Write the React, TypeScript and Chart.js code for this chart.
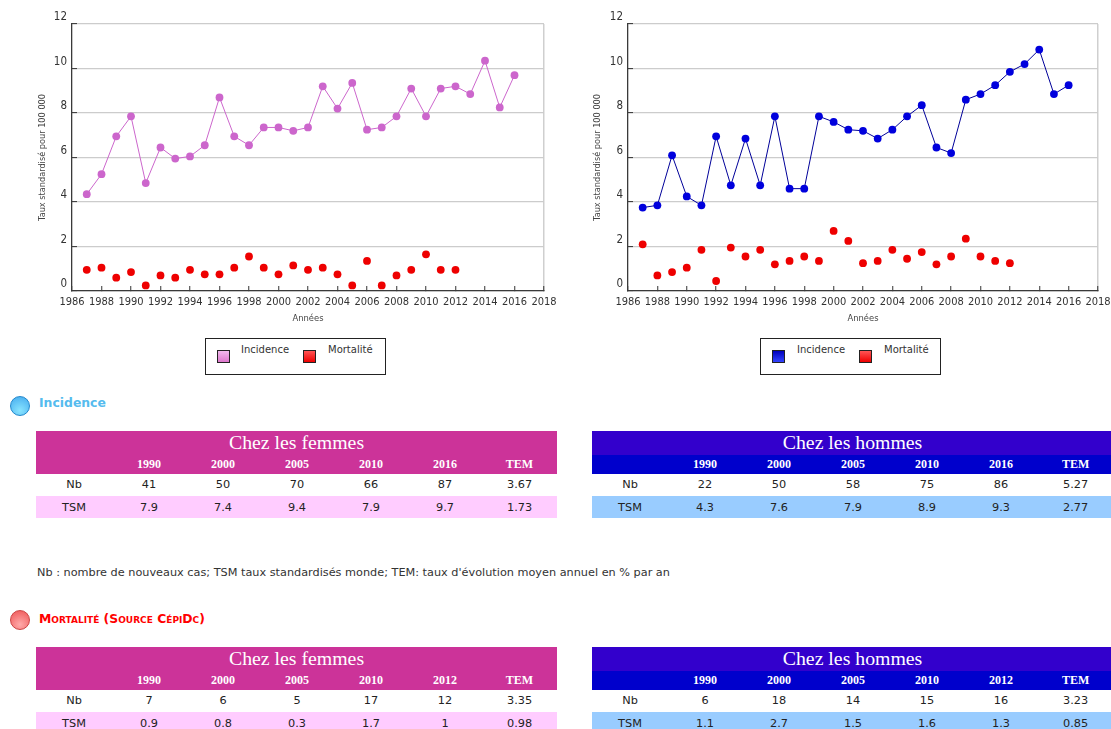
import React, { useEffect, useRef } from "react";
import { Chart, registerables } from "chart.js";

Chart.register(...registerables);

const incidenceYears = [1987,1988,1989,1990,1991,1992,1993,1994,1995,1996,1997,1998,1999,2000,2001,2002,2003,2004,2005,2006,2007,2008,2009,2010,2011,2012,2013,2014,2015,2016];
const mortalityYears = [1987,1988,1989,1990,1991,1992,1993,1994,1995,1996,1997,1998,1999,2000,2001,2002,2003,2004,2005,2006,2007,2008,2009,2010,2011,2012];

const femmesIncidence = [4.35,5.25,6.95,7.85,4.85,6.45,5.95,6.05,6.55,8.7,6.95,6.55,7.35,7.35,7.2,7.35,9.2,8.2,9.35,7.25,7.35,7.85,9.1,7.85,9.1,9.2,8.85,10.35,8.25,9.7];
const femmesMortalite = [0.95,1.05,0.6,0.85,0.25,0.7,0.6,0.95,0.75,0.75,1.05,1.55,1.05,0.75,1.15,0.95,1.05,0.75,0.25,1.35,0.25,0.7,0.95,1.65,0.95,0.95];
const hommesIncidence = [3.75,3.85,6.1,4.25,3.85,6.95,4.75,6.85,4.75,7.85,4.6,4.6,7.85,7.6,7.25,7.2,6.85,7.25,7.85,8.35,6.45,6.2,8.6,8.85,9.25,9.85,10.2,10.85,8.85,9.25];
const hommesMortalite = [2.1,0.7,0.85,1.05,1.85,0.45,1.95,1.55,1.85,1.2,1.35,1.55,1.35,2.7,2.25,1.25,1.35,1.85,1.45,1.75,1.2,1.55,2.35,1.55,1.35,1.25];

const yAxisTitle = "Taux standardisé pour 100 000";
const xAxisTitle = "Années";

const rowLabels = ["Nb", "TSM"];
const incidenceFemmesHead = ["1990","2000","2005","2010","2016","TEM"];
const incidenceFemmesNb = ["41","50","70","66","87","3.67"];
const incidenceFemmesTsm = ["7.9","7.4","9.4","7.9","9.7","1.73"];
const incidenceHommesNb = ["22","50","58","75","86","5.27"];
const incidenceHommesTsm = ["4.3","7.6","7.9","8.9","9.3","2.77"];
const mortaliteHead = ["1990","2000","2005","2010","2012","TEM"];
const mortaliteFemmesNb = ["7","6","5","17","12","3.35"];
const mortaliteFemmesTsm = ["0.9","0.8","0.3","1.7","1","0.98"];
const mortaliteHommesNb = ["6","18","14","15","16","3.23"];
const mortaliteHommesTsm = ["1.1","2.7","1.5","1.6","1.3","0.85"];

const tickFont = "'Liberation Sans Narrow', 'DejaVu Sans Condensed', 'DejaVu Sans', sans-serif";
const uiFont = "'DejaVu Sans', sans-serif";

function Plot(props: { left: number; width: number; rightPad: number; titleLeft: number; inc: number[]; mort: number[]; color: string; lineColor: string }) {
  const ref = useRef<HTMLCanvasElement>(null);
  useEffect(() => {
    const chart = new Chart(ref.current as HTMLCanvasElement, {
      type: "scatter",
      data: {
        datasets: [
          {
            label: "Incidence",
            data: incidenceYears.map((x, i) => ({ x, y: props.inc[i] })),
            showLine: true,
            borderColor: props.lineColor,
            backgroundColor: props.color,
            borderWidth: 1,
            pointRadius: 3.9,
            pointBorderWidth: 0,
          },
          {
            label: "Mortalité",
            data: mortalityYears.map((x, i) => ({ x, y: props.mort[i] })),
            showLine: false,
            backgroundColor: "#ee0000",
            borderColor: "#ee0000",
            pointRadius: 3.9,
            pointBorderWidth: 0,
          },
        ],
      },
      options: {
        animation: false,
        responsive: false,
        layout: { padding: { top: 24, right: props.rightPad, left: 0, bottom: 0 } },
        plugins: { legend: { display: false }, tooltip: { enabled: false } },
        scales: {
          x: {
            type: "linear",
            min: 1986,
            max: 2018,
            afterFit: (s: any) => { s.height = 39; s.paddingLeft = 0; s.paddingRight = 0; },
            border: { color: "#3a3a3a", width: 1.3 },
            grid: {
              color: (c: any) => (c.tick && c.tick.value === 2018 ? "#cfcfcf" : "rgba(0,0,0,0)"),
              lineWidth: 1.5,
              tickColor: "#333333",
              tickLength: -5,
              tickWidth: 1,
            },
            ticks: {
              stepSize: 2,
              maxRotation: 0,
              autoSkip: false,
              padding: 10,
              color: "#333333",
              font: { family: tickFont, size: 11 },
              callback: (v: any) => String(v),
            },
            title: {
              display: true,
              text: xAxisTitle,
              color: "#444444",
              font: { family: uiFont, size: 8.4 },
              padding: { top: 0, bottom: 6 },
            },
          },
          y: {
            min: 0,
            max: 12,
            afterFit: (s: any) => { s.width = 72; s.paddingTop = 0; s.paddingBottom = 0; },
            border: { color: "#3a3a3a", width: 1.3 },
            grid: {
              color: "#cccccc",
              lineWidth: 1.2,
              tickColor: "#333333",
              tickLength: -5,
              tickWidth: 1,
            },
            ticks: {
              stepSize: 2,
              padding: 10,
              color: "#333333",
              font: { family: tickFont, size: 11.5, lineHeight: 13 / 11.5 },
              callback: (v: any) => [String(v), ""],
            },
            title: {
              display: true,
              text: yAxisTitle,
              color: "#444444",
              font: { family: uiFont, size: 8.2 },
              padding: { top: props.titleLeft, bottom: 0 },
            },
          },
        },
      },
    } as any);
    return () => chart.destroy();
  }, []);
  return <canvas ref={ref} width={props.width} height={330} style={{ position: "absolute", left: props.left, top: 0, width: props.width, height: 330 }} />;
}

function Legend(props: { left: number; width: number; sq1: number; tx1: number; sq2: number; tx2: number; grad: string }) {
  const square = (left: number, bg: string) => (
    <div style={{ position: "absolute", left, top: 11, width: 11, height: 11, border: "1.5px solid #222", background: bg }} />
  );
  const label = (left: number, t: string) => (
    <div style={{ position: "absolute", left, top: 5, font: `10px ${uiFont}`, color: "#333", whiteSpace: "nowrap" }}>{t}</div>
  );
  return (
    <div style={{ position: "absolute", left: props.left, top: 338, width: props.width, height: 35, border: "1.5px solid #222", background: "#fff" }}>
      {square(props.sq1, props.grad)}
      {label(props.tx1, "Incidence")}
      {square(props.sq2, "linear-gradient(#ff5555,#ee0000)")}
      {label(props.tx2, "Mortalité")}
    </div>
  );
}

function DataTable(props: { left: number; top: number; title: string; head: string[]; nb: string[]; tsm: string[]; titleBg: string; headBg: string; rowBg: string }) {
  const cols = [76, 74, 74, 74, 74, 74, 75];
  const cell = { textAlign: "center" as const, padding: 0, font: `11.3px ${uiFont}`, color: "#222" };
  const headCell = { textAlign: "center" as const, padding: 0, font: `bold 12px 'Liberation Serif', serif`, color: "#fff" };
  return (
    <table style={{ position: "absolute", left: props.left, top: props.top, width: 521, tableLayout: "fixed", borderCollapse: "collapse", borderSpacing: 0 }}>
      <colgroup>{cols.map((w, i) => <col key={i} style={{ width: w }} />)}</colgroup>
      <tbody>
        <tr style={{ height: 24, background: props.titleBg }}>
          <td colSpan={7} style={{ textAlign: "center", padding: 0, font: "19.8px/20px 'Liberation Serif', serif", color: "#fff" }}>
            <span style={{ position: "relative", top: -1 }}>{props.title}</span>
          </td>
        </tr>
        <tr style={{ height: 18.5, background: props.headBg }}>
          <td style={headCell}></td>
          {props.head.map((h) => <td key={h} style={headCell}>{h}</td>)}
        </tr>
        <tr style={{ height: 22.5, background: "#fff" }}>
          <td style={cell}>{rowLabels[0]}</td>
          {props.nb.map((v, i) => <td key={i} style={cell}>{v}</td>)}
        </tr>
        <tr style={{ height: 22, background: props.rowBg }}>
          <td style={cell}>{rowLabels[1]}</td>
          {props.tsm.map((v, i) => <td key={i} style={cell}>{v}</td>)}
        </tr>
      </tbody>
    </table>
  );
}

function Sphere(props: { top: number; c1: string; c2: string; edge: string }) {
  return (
    <div style={{ position: "absolute", left: 10, top: props.top, width: 20, height: 20, borderRadius: "50%", background: `radial-gradient(circle at 50% 75%, ${props.c1}, ${props.c2})`, border: `0.5px solid ${props.edge}`, boxSizing: "border-box" }} />
  );
}

export default function App() {
  const pink = { titleBg: "#cc3399", headBg: "#cc3399", rowBg: "#ffccff" };
  const blue = { titleBg: "#3300cc", headBg: "#0000cc", rowBg: "#99ccff" };
  return (
    <div style={{ position: "absolute", left: 0, top: 0, width: 1111, height: 729, overflow: "hidden", background: "#fff", filter: "blur(0.35px)" }}>
      <Plot left={0} width={560} rightPad={16} titleLeft={38} inc={femmesIncidence} mort={femmesMortalite} color="#cc66cc" lineColor="#cc66cc" />
      <Plot left={556} width={555} rightPad={13} titleLeft={37} inc={hommesIncidence} mort={hommesMortalite} color="#0000dd" lineColor="#000099" />
      <Legend left={205} width={179} sq1={11} tx1={35} sq2={97} tx2={122} grad="linear-gradient(#f0b8ec,#dd77cc)" />
      <Legend left={760} width={179} sq1={11} tx1={36} sq2={98} tx2={123} grad="linear-gradient(#0000bb,#3344ff)" />

      <Sphere top={396} c1="#88e4ff" c2="#44aaee" edge="#2288cc" />
      <div style={{ position: "absolute", left: 39, top: 395, font: `bold 12.4px ${uiFont}`, color: "#55bbee" }}>Incidence</div>
      <DataTable left={36} top={431} title="Chez les femmes" head={incidenceFemmesHead} nb={incidenceFemmesNb} tsm={incidenceFemmesTsm} {...pink} />
      <DataTable left={592} top={431} title="Chez les hommes" head={incidenceFemmesHead} nb={incidenceHommesNb} tsm={incidenceHommesTsm} {...blue} />
      <div style={{ position: "absolute", left: 37, top: 566, font: `11.27px ${uiFont}`, color: "#333", whiteSpace: "nowrap" }}>
        Nb : nombre de nouveaux cas; TSM taux standardisés monde; TEM: taux d'évolution moyen annuel en % par an
      </div>
      <Sphere top={610} c1="#ffaaaa" c2="#ee5555" edge="#cc4444" />
      <div style={{ position: "absolute", left: 39, top: 611, font: `bold 12.4px ${uiFont}`, fontVariant: "small-caps", color: "#ff0000", whiteSpace: "nowrap" }}>Mortalité (Source CépiDc)</div>
      <DataTable left={36} top={647} title="Chez les femmes" head={mortaliteHead} nb={mortaliteFemmesNb} tsm={mortaliteFemmesTsm} {...pink} />
      <DataTable left={592} top={647} title="Chez les hommes" head={mortaliteHead} nb={mortaliteHommesNb} tsm={mortaliteHommesTsm} {...blue} />
    </div>
  );
}
